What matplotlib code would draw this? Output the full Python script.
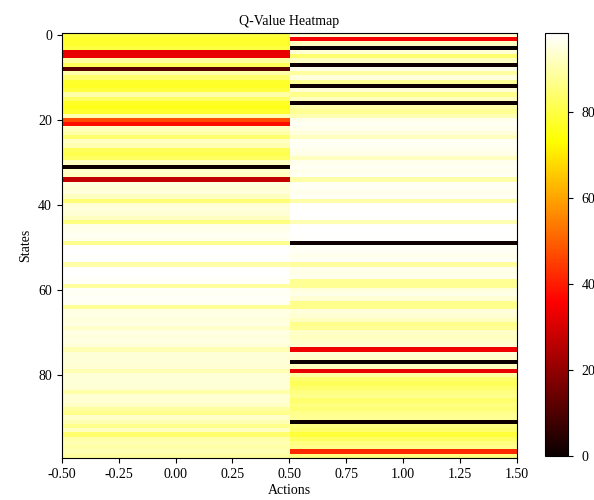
import numpy as np
import matplotlib
matplotlib.use("Agg")
import matplotlib.pyplot as plt

plt.rcParams["font.family"] = ["Liberation Serif", "DejaVu Serif"]
plt.rcParams["axes.unicode_minus"] = False

# ── Q-table: one list per action, 100 states ───
q_action0 = [
    80, 78, 78, 80, 33, 33, 89, 82, 12, 90,
    84, 78, 77, 79, 90, 83, 77, 76, 78, 91,
    47, 38, 92, 90, 84, 92, 91, 82, 81, 83,
    92, 1, 93, 92, 27, 95, 94, 95, 92, 85,
    94, 95, 94, 92, 86, 96, 96.5, 97, 96.5, 87,
    98, 98.5, 98, 98, 90, 98, 98.5, 98, 97.5, 89,
    97.5, 97, 97.5, 97, 88, 95.5, 95.5, 95, 95.5, 93,
    95.5, 95, 95.5, 95, 91, 94.5, 94.5, 94.5, 94, 91,
    94.5, 94.5, 94.5, 94, 90, 94, 94, 93, 89, 87,
    93, 91, 87, 92, 84, 90, 91, 90, 91, 89,
]
q_action1 = [
    94, 35, 92, 0, 94, 84, 92, 1, 96, 89,
    95, 88, 1, 94, 87, 92, 1, 90, 88, 91,
    96.5, 97, 96.5, 95, 92, 97, 97, 96.5, 96, 92,
    96.5, 97, 96.5, 97, 90, 97, 97, 96.5, 97, 90,
    98, 98, 98.5, 98, 91, 98, 98.5, 98, 98, 1,
    97, 97, 96.5, 97, 89, 96.5, 96, 96.5, 88, 88,
    95, 96, 94, 87, 87, 95, 94, 92, 87, 88,
    93, 92, 93, 94, 34, 94, 93, 1, 92, 33,
    89, 84, 82, 84, 86, 87, 84, 86, 85, 87,
    88, 1, 86, 84, 79, 83, 86, 87, 42, 86,
]

q_table = np.column_stack([q_action0, q_action1])

# ── Plot ───────────────────────────────────────
fig = plt.figure(figsize=(5.94, 5.0), dpi=100)
ax = fig.add_axes([0.104, 0.084, 0.766, 0.85])
cax = fig.add_axes([0.9175, 0.088, 0.039, 0.846])

im = ax.imshow(q_table, cmap="hot", aspect="auto")
cbar = fig.colorbar(im, cax=cax)
cbar.set_ticks([0, 20, 40, 60, 80])

ax.set_xticks(np.arange(-0.5, 1.51, 0.25))
ax.set_xticklabels([f"{v:.2f}" for v in np.arange(-0.5, 1.51, 0.25)])
ax.set_yticks([0, 20, 40, 60, 80])
ax.set_title("Q-Value Heatmap", fontsize=10)
ax.set_xlabel("Actions", fontsize=10, labelpad=2)
ax.set_ylabel("States", fontsize=10)
ax.tick_params(labelsize=10)
cbar.ax.tick_params(labelsize=10, pad=6)

fig.savefig("out.png", dpi=100)
